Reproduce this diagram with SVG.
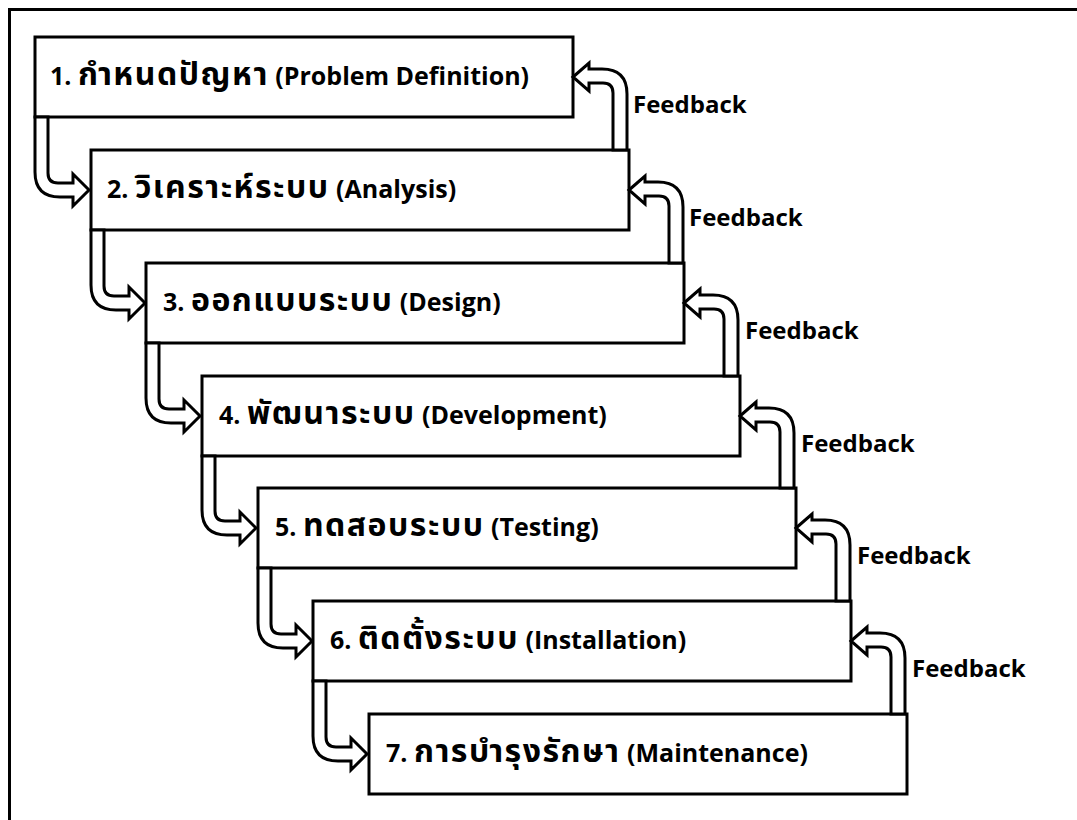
<svg xmlns="http://www.w3.org/2000/svg" width="1077" height="820" viewBox="0 0 1077 820">
<style>
.frame{fill:none;stroke:#000;stroke-width:3}
.box{fill:#fff;stroke:#000;stroke-width:3}
.arr{fill:#fff;stroke:#000;stroke-width:3;stroke-linejoin:miter}
.t{font-family:"Open Sans","DejaVu Sans","Noto Sans Thai",sans-serif;font-size:25px;font-weight:bold;fill:#000}
.th{font-size:32px;letter-spacing:1.5px}
.fb{font-family:"Open Sans","DejaVu Sans",sans-serif;font-size:24px;font-weight:bold;fill:#000}
</style>
<rect width="1077" height="820" fill="#fff"/>
<path class="frame" d="M9.5,820 V9.5 H1077"/>
<g id="n1"><rect class="box" x="35" y="37" width="538" height="80"/><text class="t" x="50" y="85">1. <tspan class="th">กำหนดปัญหา</tspan> (Problem Definition)</text></g>
<g id="n2"><rect class="box" x="91" y="150" width="538" height="80"/><text class="t" x="107" y="198">2. <tspan class="th">วิเคราะห์ระบบ</tspan> (Analysis)</text></g>
<g id="n3"><rect class="box" x="146" y="263" width="538" height="80"/><text class="t" x="163" y="311">3. <tspan class="th">ออกแบบระบบ</tspan> (Design)</text></g>
<g id="n4"><rect class="box" x="202" y="376" width="538" height="80"/><text class="t" x="219" y="424">4. <tspan class="th">พัฒนาระบบ</tspan> (Development)</text></g>
<g id="n5"><rect class="box" x="258" y="488" width="538" height="80"/><text class="t" x="275" y="536">5. <tspan class="th">ทดสอบระบบ</tspan> (Testing)</text></g>
<g id="n6"><rect class="box" x="313" y="601" width="538" height="80"/><text class="t" x="330" y="649">6. <tspan class="th">ติดตั้งระบบ</tspan> (Installation)</text></g>
<g id="n7"><rect class="box" x="369" y="714" width="538" height="80"/><text class="t" x="386" y="762">7. <tspan class="th">การบำรุงรักษา</tspan> (Maintenance)</text></g>
<g id="connectors">
<path class="arr" d="M35,117 L48,117 L48,173 Q48,183 58,183 L73,183 L73,174 L89,190 L73,206 L73,197 L60,197 Q35,197 35,172 Z"/>
<path class="arr" d="M91,230 L104,230 L104,286 Q104,296 114,296 L129,296 L129,287 L145,303 L129,319 L129,310 L116,310 Q91,310 91,285 Z"/>
<path class="arr" d="M146,343 L159,343 L159,399 Q159,409 169,409 L184,409 L184,400 L200,416 L184,432 L184,423 L171,423 Q146,423 146,398 Z"/>
<path class="arr" d="M202,456 L215,456 L215,511 Q215,521 225,521 L240,521 L240,512 L256,528 L240,544 L240,535 L227,535 Q202,535 202,510 Z"/>
<path class="arr" d="M258,568 L271,568 L271,624 Q271,634 281,634 L296,634 L296,625 L312,641 L296,657 L296,648 L283,648 Q258,648 258,623 Z"/>
<path class="arr" d="M313,681 L326,681 L326,737 Q326,747 336,747 L351,747 L351,738 L367,754 L351,770 L351,761 L338,761 Q313,761 313,736 Z"/>
<path class="arr" d="M573,77 L589,63 L589,69 L602,69 Q627,69 627,94 L627,150 L613,150 L613,93 Q613,83 603,83 L589,83 L589,91 Z"/>
<path class="arr" d="M629,190 L645,176 L645,182 L658,182 Q683,182 683,207 L683,263 L669,263 L669,206 Q669,196 659,196 L645,196 L645,204 Z"/>
<path class="arr" d="M684,303 L700,289 L700,295 L713,295 Q738,295 738,320 L738,376 L724,376 L724,319 Q724,309 714,309 L700,309 L700,317 Z"/>
<path class="arr" d="M740,416 L756,402 L756,408 L769,408 Q794,408 794,433 L794,488 L780,488 L780,432 Q780,422 770,422 L756,422 L756,430 Z"/>
<path class="arr" d="M796,528 L812,514 L812,520 L825,520 Q850,520 850,545 L850,601 L836,601 L836,544 Q836,534 826,534 L812,534 L812,542 Z"/>
<path class="arr" d="M851,641 L867,627 L867,633 L880,633 Q905,633 905,658 L905,714 L891,714 L891,657 Q891,647 881,647 L867,647 L867,655 Z"/>
</g>
<g id="labels">
<text class="fb" x="633" y="113">Feedback</text>
<text class="fb" x="689" y="226">Feedback</text>
<text class="fb" x="745" y="339">Feedback</text>
<text class="fb" x="801" y="452">Feedback</text>
<text class="fb" x="857" y="564">Feedback</text>
<text class="fb" x="912" y="677">Feedback</text>
</g>
</svg>
